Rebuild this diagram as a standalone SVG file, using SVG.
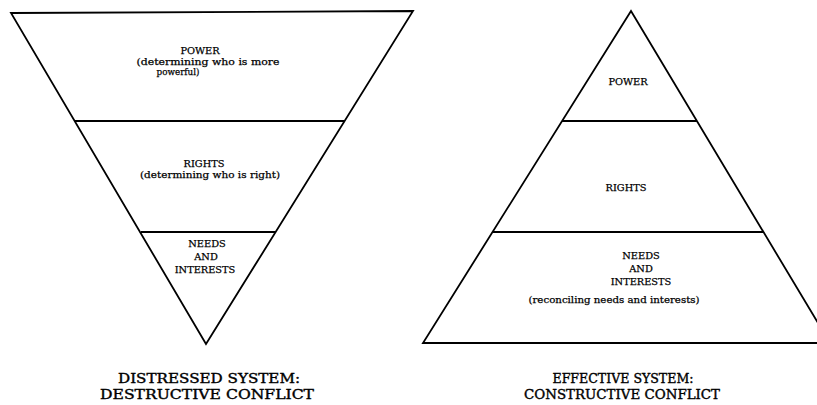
<svg xmlns="http://www.w3.org/2000/svg" width="817" height="405" viewBox="0 0 817 405">
<style>
.shape{fill:none;stroke:#000;stroke-width:1.8;stroke-linejoin:miter}
.div{stroke:#000;stroke-width:1.8}
text{font-family:"DejaVu Serif","Liberation Serif",serif;fill:#000;text-anchor:middle;stroke:#000;stroke-width:0.25}
.lbl{font-size:9.8px}
.sub{font-size:9.5px}
.ttl{font-size:13.5px;stroke-width:0.4}
</style>
<rect width="817" height="405" fill="#fff"/>
<g id="distressed-system">
  <polygon class="shape" points="11,13 413,11 206,344"/>
  <g id="connectors-left">
    <line class="div" x1="75" y1="121" x2="344" y2="121"/>
    <line class="div" x1="141" y1="232" x2="276" y2="232"/>
  </g>
  <g id="d-power">
    <text class="lbl" x="200" y="54">POWER</text>
    <text class="sub" x="208" y="65" textLength="143" lengthAdjust="spacingAndGlyphs">(determining who is more</text>
    <text class="sub" x="178" y="75" textLength="43" lengthAdjust="spacingAndGlyphs">powerful)</text>
  </g>
  <g id="d-rights">
    <text class="lbl" x="204" y="167">RIGHTS</text>
    <text class="sub" x="210" y="178" textLength="140" lengthAdjust="spacingAndGlyphs">(determining who is right)</text>
  </g>
  <g id="d-needs">
    <text class="lbl" x="207" y="247">NEEDS</text>
    <text class="lbl" x="206" y="260">AND</text>
    <text class="lbl" x="205" y="273">INTERESTS</text>
  </g>
  <g id="d-title">
    <text class="ttl" x="209" y="383" textLength="182" lengthAdjust="spacingAndGlyphs">DISTRESSED SYSTEM:</text>
    <text class="ttl" x="207" y="399" textLength="214" lengthAdjust="spacingAndGlyphs">DESTRUCTIVE CONFLICT</text>
  </g>
</g>
<g id="effective-system">
  <polygon class="shape" points="631,11 423,343 830,343"/>
  <g id="connectors-right">
    <line class="div" x1="562" y1="121" x2="697" y2="121"/>
    <line class="div" x1="492" y1="232" x2="763" y2="232"/>
  </g>
  <g id="e-power">
    <text class="lbl" x="628" y="85">POWER</text>
  </g>
  <g id="e-rights">
    <text class="lbl" x="626" y="191">RIGHTS</text>
  </g>
  <g id="e-needs">
    <text class="lbl" x="641" y="259">NEEDS</text>
    <text class="lbl" x="641" y="272">AND</text>
    <text class="lbl" x="641" y="285">INTERESTS</text>
    <text class="sub" x="614" y="303" textLength="171" lengthAdjust="spacingAndGlyphs">(reconciling needs and interests)</text>
  </g>
  <g id="e-title">
    <text class="ttl" x="623" y="383" textLength="141" lengthAdjust="spacingAndGlyphs">EFFECTIVE SYSTEM:</text>
    <text class="ttl" x="622" y="399" textLength="196" lengthAdjust="spacingAndGlyphs">CONSTRUCTIVE CONFLICT</text>
  </g>
</g>
</svg>
